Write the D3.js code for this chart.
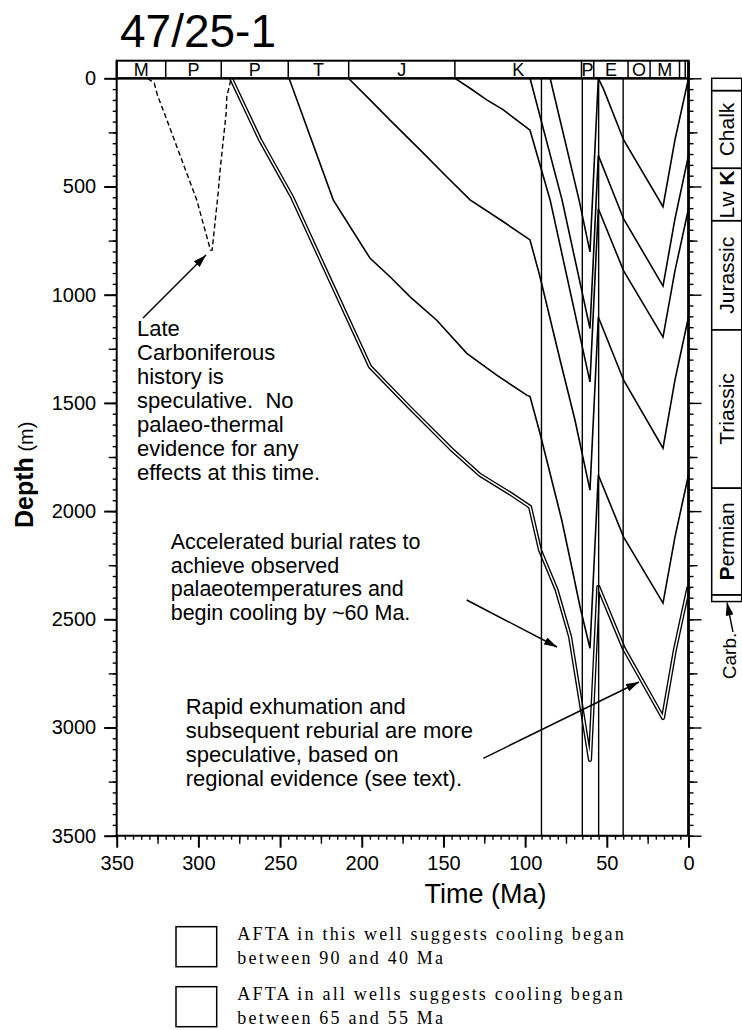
<!DOCTYPE html>
<html>
<head>
<meta charset="utf-8">
<script src="https://cdn.jsdelivr.net/npm/d3@7"></script>
<style>
  body { margin: 0; background: #fff; }
  svg { display: block; font-family: Arial, "Liberation Sans", sans-serif; }
  .serif { font-family: "Times New Roman", "Liberation Serif", serif; }
</style>
</head>
<body>
<div class="graph_container"></div>
<script>
const title = '47/25-1';

// period bar along the top (ages in Ma)
const periodAges = [350, 320, 286, 245, 208, 143, 65.5, 58, 37, 23.5, 5.5, 2, 0];
const periodLabels = ['M', 'P', 'P', 'T', 'J', 'K', 'P', 'E', 'O', 'M', '', ''];

// AFTA cooling windows (Ma)
const coolingWindows = [[90, 40], [65, 55]];

// present-day stratigraphic column (depth in m)
const stratDepths = [0, 57, 416, 658, 1162, 1894, 2387, 2418];
const stratLabels = ['', 'Chalk', 'Lw K', 'Jurassic', 'Triassic', 'Permian', ''];

// burial histories [age Ma, depth m]
const horizonA = [[84.7, 0], [67, 562], [60.3, 802], [55.2, 0], [52, 50], [39.7, 285], [15.6, 593], [8.3, 285], [0, 0]];
const horizonB = [[97, 0], [77.4, 562], [60.3, 1156], [55.2, 356], [39.7, 650], [15.6, 960], [8.3, 650], [0, 356]];
const horizonC = [[142.9, 0], [133.7, 46], [123.5, 100], [113.3, 146], [105.1, 193], [97, 240], [84.7, 562],
  [60.3, 1403], [55.2, 603], [39.7, 890], [15.6, 1196], [8.3, 890], [0, 603]];
const horizonD = [[208.2, 0], [194.9, 100], [182.7, 193], [164.3, 331], [148, 455], [133.7, 562], [113.3, 663],
  [97, 747], [90.9, 917], [78.6, 1302], [69.5, 1579], [60.3, 1903], [55.2, 1103], [39.7, 1395], [15.6, 1709],
  [8.3, 1395], [0, 1103]];
const horizonE = [[244.5, 0], [217.4, 563], [194.9, 832], [182.7, 917], [170.4, 1010], [154.1, 1118],
  [135.7, 1271], [117.4, 1372], [99, 1464], [97, 1471], [90.9, 1640], [84.8, 1824], [77.6, 2041], [71.5, 2257],
  [66.4, 2442], [60.3, 2634], [55.2, 1833], [39.7, 2120], [15.6, 2425], [8.3, 2120], [0, 1833]];
const horizonF = [[280, 0], [262.2, 285], [242.8, 547], [219.4, 932], [194.9, 1333], [170.4, 1524], [145.7, 1710],
  [127.6, 1833], [109.3, 1918], [97, 1980], [90.9, 2180], [80.7, 2365], [72.5, 2580], [60.3, 3150],
  [55.2, 2350], [39.7, 2633], [15.6, 2956], [8.3, 2640], [0, 2350]];
// speculative Late Carboniferous history (dashed)
const carbHistory = [[331, 0], [327, 23], [325, 80], [321.6, 146], [304, 502], [301, 562], [292.6, 794],
  [291.6, 794], [287.9, 530], [286.7, 424], [285.6, 345], [283, 160], [282.6, 85], [280.6, 22], [280, 0]];

const noteCarb = ['Late', 'Carboniferous', 'history is', 'speculative.  No', 'palaeo-thermal',
  'evidence for any', 'effects at this time.'];
const noteBurial = ['Accelerated burial rates to', 'achieve observed', 'palaeotemperatures and',
  'begin cooling by ~60 Ma.'];
const noteExhum = ['Rapid exhumation and', 'subsequent reburial are more', 'speculative, based on',
  'regional evidence (see text).'];
const legendLines = [
  ['AFTA in this well suggests cooling began', 'between 90 and 40 Ma'],
  ['AFTA in all wells suggests cooling began', 'between 65 and 55 Ma']
];

const svg = d3.select('.graph_container').append('svg')
  .attr('width', 742)
  .attr('height', 1030);

const x = d3.scaleLinear().domain([350, 0]).range([116.7, 688.5]);
const y = d3.scaleLinear().domain([0, 3500]).range([78.3, 835.7]);

svg.append('defs').append('marker')
  .attr('id', 'arrow')
  .attr('markerUnits', 'userSpaceOnUse')
  .attr('markerWidth', 13).attr('markerHeight', 8)
  .attr('refX', 13).attr('refY', 4)
  .attr('orient', 'auto')
  .append('path')
  .attr('d', 'M0,0 L13,4 L0,8 Z')
  .attr('fill', '#000');

// title
svg.append('text')
  .attr('x', 120).attr('y', 47)
  .style('font-size', '46px')
  .text(title);

const line = d3.line()
  .x(function (d) { return x(d[0]); })
  .y(function (d) { return y(d[1]); });

// base Permian drawn as a double line
svg.append('path').datum(horizonF)
  .attr('d', line).attr('fill', 'none')
  .attr('stroke', '#000').attr('stroke-width', 4.2).attr('stroke-linejoin', 'round');
svg.append('path').datum(horizonF)
  .attr('d', line).attr('fill', 'none')
  .attr('stroke', '#fff').attr('stroke-width', 1.5).attr('stroke-linejoin', 'round');

svg.selectAll('.horizon')
  .data([horizonA, horizonB, horizonC, horizonD, horizonE])
  .enter().append('path')
  .attr('class', 'horizon')
  .attr('d', line)
  .attr('fill', 'none')
  .attr('stroke', '#000')
  .attr('stroke-width', 1.6);

svg.append('path').datum(carbHistory)
  .attr('d', line).attr('fill', 'none')
  .attr('stroke', '#000').attr('stroke-width', 1.4)
  .attr('stroke-dasharray', '5,3');

// cooling windows
svg.selectAll('.window')
  .data(coolingWindows)
  .enter().append('rect')
  .attr('class', 'window')
  .attr('x', function (d) { return x(d[0]); })
  .attr('width', function (d) { return x(d[1]) - x(d[0]); })
  .attr('y', y(0))
  .attr('height', y(3500) - y(0))
  .attr('fill', 'none')
  .attr('stroke', '#000')
  .attr('stroke-width', 1.4);

// period bar
const barTop = 60.7;
svg.append('rect')
  .attr('x', x(350)).attr('y', barTop)
  .attr('width', x(0) - x(350)).attr('height', y(0) - barTop)
  .attr('fill', 'none').attr('stroke', '#000').attr('stroke-width', 2);
svg.selectAll('.pdiv')
  .data(periodAges.slice(1, -1))
  .enter().append('line')
  .attr('class', 'pdiv')
  .attr('x1', function (d) { return x(d); }).attr('x2', function (d) { return x(d); })
  .attr('y1', barTop).attr('y2', y(0))
  .attr('stroke', '#000').attr('stroke-width', 1.5);
svg.selectAll('.plabel')
  .data(periodLabels)
  .enter().append('text')
  .attr('class', 'plabel')
  .attr('x', function (d, i) { return (x(periodAges[i]) + x(periodAges[i + 1])) / 2; })
  .attr('y', 75.5)
  .style('font-size', '18px')
  .style('text-anchor', 'middle')
  .text(function (d) { return d; });

// axes
function tickAxis(axis, g, size) {
  g.call(axis.tickSize(size).tickSizeOuter(0));
  g.select('.domain').remove();
  g.selectAll('line').attr('stroke-width', 1.4);
}
const fmt = d3.format('d');
const left = svg.append('g').attr('transform', 'translate(' + x(350) + ',0)');
tickAxis(d3.axisLeft(y).tickValues(d3.range(0, 3501, 50)).tickFormat(''), left.append('g'), 4);
tickAxis(d3.axisLeft(y).tickValues(d3.range(250, 3501, 500)).tickFormat(''), left.append('g'), 8);
const leftMajor = left.append('g');
tickAxis(d3.axisLeft(y).tickValues(d3.range(0, 3501, 500)).tickFormat(fmt).tickPadding(8), leftMajor, 12.5);
leftMajor.selectAll('line').attr('stroke-width', 2);
leftMajor.selectAll('text').style('font-size', '20px').style('font-family', 'Arial, "Liberation Sans", sans-serif');

const right = svg.append('g').attr('transform', 'translate(' + x(0) + ',0)');
tickAxis(d3.axisRight(y).tickValues(d3.range(0, 3501, 50)).tickFormat(''), right.append('g'), 5);
tickAxis(d3.axisRight(y).tickValues(d3.range(250, 3501, 500)).tickFormat(''), right.append('g'), 9);
tickAxis(d3.axisRight(y).tickValues(d3.range(0, 3501, 500)).tickFormat(''), right.append('g'), 13);

const bottom = svg.append('g').attr('transform', 'translate(0,' + y(3500) + ')');
tickAxis(d3.axisBottom(x).tickValues(d3.range(0, 351, 5)).tickFormat(''), bottom.append('g'), 4);
tickAxis(d3.axisBottom(x).tickValues(d3.range(25, 351, 50)).tickFormat(''), bottom.append('g'), 8);
const bottomMajor = bottom.append('g');
tickAxis(d3.axisBottom(x).tickValues(d3.range(0, 351, 50)).tickFormat(fmt).tickPadding(8), bottomMajor, 12);
bottomMajor.selectAll('line').attr('stroke-width', 2);
bottomMajor.selectAll('text').style('font-size', '20px').style('font-family', 'Arial, "Liberation Sans", sans-serif');

// frame lines
svg.append('line')
  .attr('x1', x(350)).attr('x2', x(350)).attr('y1', barTop).attr('y2', y(3500))
  .attr('stroke', '#000').attr('stroke-width', 2);
svg.append('line')
  .attr('x1', x(0)).attr('x2', x(0)).attr('y1', barTop).attr('y2', y(3500))
  .attr('stroke', '#000').attr('stroke-width', 2.8);
svg.append('line')
  .attr('x1', x(350)).attr('x2', x(0)).attr('y1', y(0)).attr('y2', y(0))
  .attr('stroke', '#000').attr('stroke-width', 2.2);
svg.append('line')
  .attr('x1', x(350)).attr('x2', x(0)).attr('y1', y(3500)).attr('y2', y(3500))
  .attr('stroke', '#000').attr('stroke-width', 2);

// axis titles
const depthLabel = svg.append('text')
  .attr('transform', 'translate(33,528) rotate(-90)');
depthLabel.append('tspan').style('font-size', '25px').style('font-weight', 'bold').text('Depth');
depthLabel.append('tspan').style('font-size', '20px').text(' (m)');

svg.append('text')
  .attr('x', 485.5).attr('y', 903)
  .style('font-size', '27px')
  .style('text-anchor', 'middle')
  .text('Time (Ma)');

// stratigraphic column on the right
const colX = 711.7, colW = 30;
svg.selectAll('.strat')
  .data(stratLabels)
  .enter().append('rect')
  .attr('class', 'strat')
  .attr('x', colX).attr('width', colW)
  .attr('y', function (d, i) { return y(stratDepths[i]); })
  .attr('height', function (d, i) { return y(stratDepths[i + 1]) - y(stratDepths[i]); })
  .attr('fill', 'none').attr('stroke', '#000').attr('stroke-width', 1.5);
svg.selectAll('.stratLabel')
  .data(stratLabels)
  .enter().append('text')
  .attr('class', 'stratLabel')
  .attr('transform', function (d, i) {
    const cy = (y(stratDepths[i]) + y(stratDepths[i + 1])) / 2;
    return 'translate(' + (colX + colW / 2 + 7.5) + ',' + cy + ') rotate(-90)';
  })
  .style('font-size', '21px')
  .style('text-anchor', 'middle')
  .each(function (d) {
    const t = d3.select(this);
    if (d === 'Lw K') {
      t.append('tspan').text('Lw ');
      t.append('tspan').style('font-weight', 'bold').text('K');
    } else if (d === 'Permian') {
      t.append('tspan').style('font-weight', 'bold').text('P');
      t.append('tspan').text('ermian');
    } else {
      t.text(d);
    }
  });
svg.append('text')
  .attr('transform', 'translate(736,656) rotate(-90)')
  .style('font-size', '19px')
  .style('text-anchor', 'middle')
  .text('Carb.');
svg.append('line')
  .attr('x1', 733).attr('y1', 632).attr('x2', 727).attr('y2', y(2418) + 1)
  .attr('stroke', '#000').attr('stroke-width', 1.4)
  .attr('marker-end', 'url(#arrow)');

// annotations
function note(lines, x0, y0, step, size) {
  svg.append('text')
    .style('font-size', size + 'px')
    .style('white-space', 'pre')
    .selectAll('tspan')
    .data(lines)
    .enter().append('tspan')
    .attr('x', x0)
    .attr('y', function (d, i) { return y0 + i * step; })
    .text(function (d) { return d; });
}
note(noteCarb, 137, 336, 24, 22);
note(noteBurial, 170.7, 549, 23.5, 21.5);
note(noteExhum, 185.7, 714, 24, 22);

const arrows = [
  [143, 318, 206, 255],
  [466.7, 600, 557, 647],
  [483.3, 758.3, 639, 682]
];
svg.selectAll('.arrow')
  .data(arrows)
  .enter().append('line')
  .attr('class', 'arrow')
  .attr('x1', function (d) { return d[0]; }).attr('y1', function (d) { return d[1]; })
  .attr('x2', function (d) { return d[2]; }).attr('y2', function (d) { return d[3]; })
  .attr('stroke', '#000').attr('stroke-width', 1.5)
  .attr('marker-end', 'url(#arrow)');

// legend
const legend = svg.selectAll('.legend')
  .data(legendLines)
  .enter().append('g')
  .attr('class', 'legend')
  .attr('transform', function (d, i) { return 'translate(0,' + (926.7 + i * 60) + ')'; });
legend.append('rect')
  .attr('x', 176).attr('width', 40.7).attr('height', 40)
  .attr('fill', 'none').attr('stroke', '#000').attr('stroke-width', 1.5);
legend.append('text')
  .attr('class', 'serif')
  .style('font-size', '18px')
  .style('letter-spacing', '2.2px')
  .selectAll('tspan')
  .data(function (d) { return d; })
  .enter().append('tspan')
  .attr('x', 237.3)
  .attr('y', function (d, i) { return 13.3 + i * 24.3; })
  .text(function (d) { return d; });
</script>
</body>
</html>
